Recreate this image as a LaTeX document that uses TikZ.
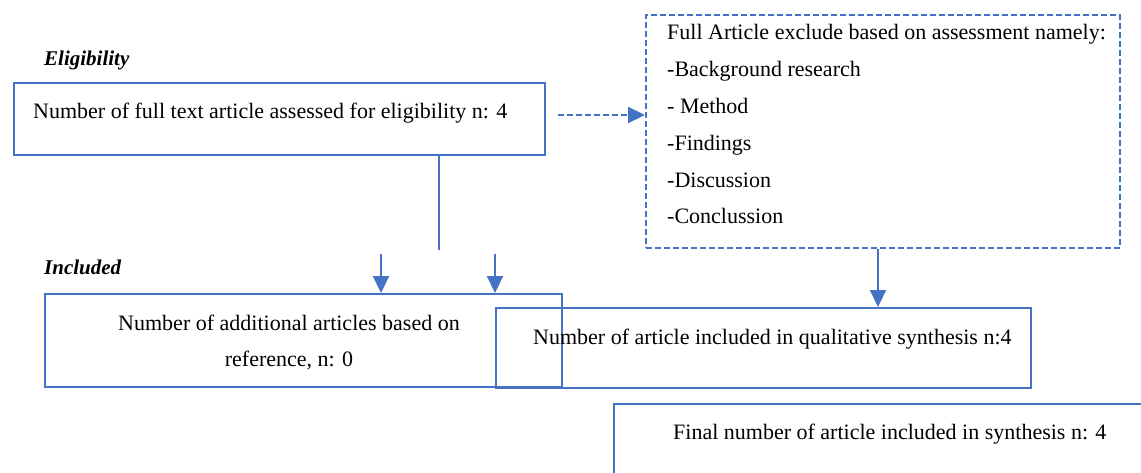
\documentclass[tikz,border=0pt]{standalone}
\usepackage{fontspec}
\setmainfont{Liberation Serif}
\usetikzlibrary{arrows.meta}
\definecolor{wblue}{HTML}{4472C4}
\begin{document}
\begin{tikzpicture}[x=1pt,y=-1pt,
  box/.style={draw=wblue, line width=2.2pt, anchor=north west, inner sep=0pt},
  dbox/.style={box, dashed, dash pattern=on 6pt off 3pt},
  txt/.style={inner sep=0pt, font=\fontsize{22}{36.8}\selectfont},
  head/.style={inner sep=0pt, anchor=west, font=\fontsize{21}{24}\selectfont\bfseries\itshape},
  arr/.style={draw=wblue, line width=2.2pt, -{Triangle[length=17pt,width=16pt]}},
  conn/.style={draw=wblue, line width=1.2pt}]
\clip (0,0) rectangle (1141,472);
\useasboundingbox (0,0) rectangle (1141,472);
\fill[white] (0,0) rectangle (1141,472);

\node[head] (h1) at (44,60) {Eligibility};
\node[head] (h2) at (44,267) {Included};

\node[box, minimum width=531, minimum height=72] (elig) at (13,82) {};
\node[txt, anchor=west] (eligt) at (33,113) {Number of full text article assessed for eligibility n: 4};

\node[dbox, minimum width=474, minimum height=233] (excl) at (645,14) {};
\node[txt, anchor=north west, align=left] (exclt) at (667,24.5) {Full Article exclude based on assessment namely:\\-Background research\\- Method\\-Findings\\-Discussion\\-Conclussion};

\node[box, minimum width=517, minimum height=93] (add) at (44,293) {};
\node[txt, align=center] (addt) at (289,342.5) {Number of additional articles based on\\reference, n: 0};

\node[box, minimum width=535, minimum height=80] (inc) at (495,307) {};
\node[txt, anchor=west] (inct) at (533,339) {Number of article included in qualitative synthesis n:4};

\node[box, minimum width=560, minimum height=100] (fin) at (613,403) {};
\node[txt, anchor=west] (fint) at (673,434.5) {Final number of article included in synthesis n: 4};

\coordinate (ds) at (558,115);
\draw[arr, dashed, dash pattern=on 6pt off 3pt] (ds) -- (excl.west |- ds);
\coordinate (vl) at (439,250);
\draw[conn] (elig.south -| vl) -- (vl);
\coordinate (a1) at (381,254);
\coordinate (a2) at (495,254);
\draw[arr] (a1) -- (a1 |- add.north);
\draw[arr] (a2) -- (a2 |- add.north);
\draw[arr] (excl.south -| 878,0) -- (inc.north -| 878,0);
\end{tikzpicture}
\end{document}
